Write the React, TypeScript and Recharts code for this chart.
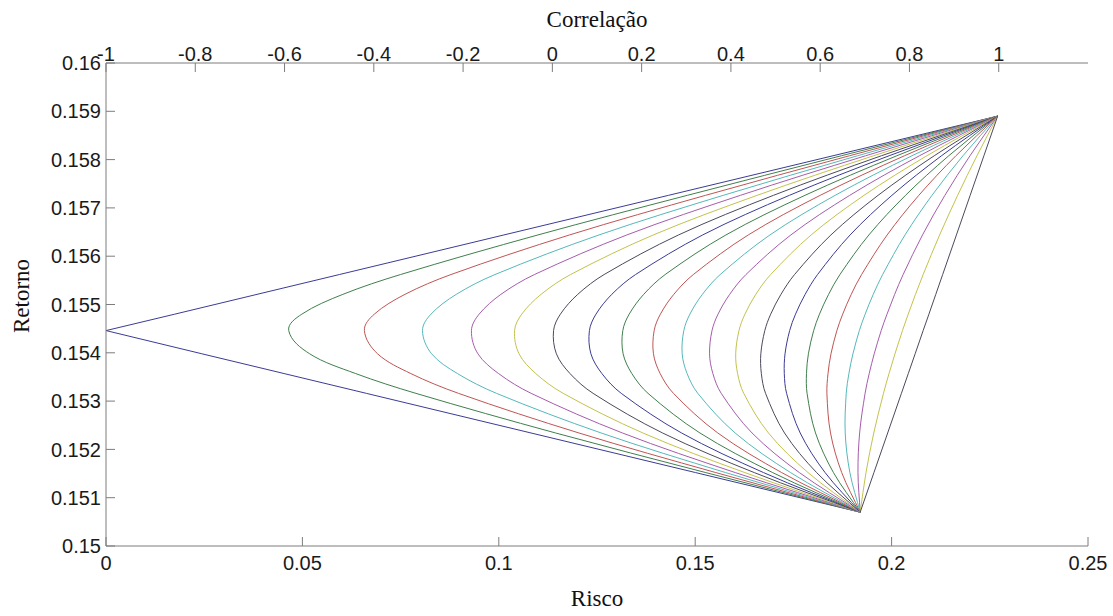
import { Label, Line, LineChart, XAxis, YAxis } from 'recharts'

// retorno da carteira em cada ponto lido (eixo vertical)
const retorno = [
  0.1507, 0.15152, 0.15234, 0.15316, 0.15357, 0.15398, 0.15446,
  0.1548, 0.15521, 0.15562, 0.15644, 0.15726, 0.15808, 0.1589,
]

// risco de cada curva, um array por correlação, na mesma ordem de retorno
const riscoM10 = [0.192, 0.1501, 0.1082, 0.0663, 0.04535, 0.0244, 0, 0.0175, 0.03845, 0.0594, 0.1013, 0.1432, 0.1851, 0.227]
const riscoM09 = [0.192, 0.15269, 0.11446, 0.07891, 0.06356, 0.05184, 0.04652, 0.04985, 0.0603, 0.07497, 0.10996, 0.14799, 0.18721, 0.227]
const riscoM08 = [0.192, 0.15524, 0.1204, 0.08976, 0.07761, 0.06913, 0.06578, 0.0683, 0.07611, 0.08782, 0.118, 0.15263, 0.18929, 0.227]
const riscoM07 = [0.192, 0.15775, 0.12606, 0.09943, 0.08948, 0.08289, 0.08057, 0.08273, 0.08917, 0.09902, 0.12551, 0.15713, 0.19135, 0.227]
const riscoM06 = [0.192, 0.16021, 0.13148, 0.10825, 0.09994, 0.09468, 0.09303, 0.09499, 0.10054, 0.10907, 0.1326, 0.16151, 0.19339, 0.227]
const riscoM05 = [0.192, 0.16264, 0.13668, 0.1164, 0.10942, 0.10515, 0.10401, 0.10584, 0.11075, 0.11827, 0.13934, 0.16577, 0.19541, 0.227]
const riscoM04 = [0.192, 0.16504, 0.14169, 0.12401, 0.11813, 0.11466, 0.11394, 0.11568, 0.1201, 0.12681, 0.14576, 0.16992, 0.19741, 0.227]
const riscoM03 = [0.192, 0.1674, 0.14653, 0.13118, 0.12625, 0.12345, 0.12307, 0.12474, 0.12876, 0.13481, 0.15191, 0.17398, 0.19938, 0.227]
const riscoM02 = [0.192, 0.16972, 0.15121, 0.13799, 0.13387, 0.13165, 0.13157, 0.13319, 0.13689, 0.14235, 0.15782, 0.17794, 0.20134, 0.227]
const riscoM01 = [0.192, 0.17202, 0.15575, 0.14447, 0.14108, 0.13937, 0.13955, 0.14114, 0.14455, 0.14952, 0.16351, 0.18182, 0.20328, 0.227]
const riscoP00 = [0.192, 0.17428, 0.16017, 0.15067, 0.14794, 0.14668, 0.1471, 0.14865, 0.15183, 0.15636, 0.16902, 0.18562, 0.2052, 0.227]
const riscoP01 = [0.192, 0.17652, 0.16447, 0.15663, 0.1545, 0.15365, 0.15428, 0.15581, 0.15878, 0.16291, 0.17435, 0.18934, 0.2071, 0.227]
const riscoP02 = [0.192, 0.17873, 0.16865, 0.16236, 0.16079, 0.16031, 0.16114, 0.16266, 0.16543, 0.16921, 0.17952, 0.19298, 0.20899, 0.227]
const riscoP03 = [0.192, 0.18091, 0.17274, 0.16791, 0.16684, 0.16671, 0.16772, 0.16922, 0.17183, 0.17529, 0.18455, 0.19656, 0.21086, 0.227]
const riscoP04 = [0.192, 0.18307, 0.17673, 0.17327, 0.17268, 0.17287, 0.17405, 0.17554, 0.17799, 0.18115, 0.18944, 0.20008, 0.21271, 0.227]
const riscoP05 = [0.192, 0.1852, 0.18063, 0.17848, 0.17833, 0.17882, 0.18016, 0.18164, 0.18396, 0.18684, 0.19422, 0.20354, 0.21455, 0.227]
const riscoP06 = [0.192, 0.1873, 0.18445, 0.18353, 0.18381, 0.18457, 0.18607, 0.18755, 0.18973, 0.19236, 0.19887, 0.20693, 0.21637, 0.227]
const riscoP07 = [0.192, 0.18938, 0.18819, 0.18845, 0.18913, 0.19016, 0.19179, 0.19327, 0.19533, 0.19772, 0.20342, 0.21028, 0.21817, 0.227]
const riscoP08 = [0.192, 0.19144, 0.19186, 0.19325, 0.1943, 0.19558, 0.19735, 0.19883, 0.20078, 0.20294, 0.20787, 0.21357, 0.21996, 0.227]
const riscoP09 = [0.192, 0.19348, 0.19546, 0.19793, 0.19934, 0.20086, 0.20276, 0.20423, 0.20608, 0.20803, 0.21223, 0.21681, 0.22174, 0.227]
const riscoP10 = [0.192, 0.1955, 0.199, 0.2025, 0.20425, 0.206, 0.20803, 0.2095, 0.21125, 0.213, 0.2165, 0.22, 0.2235, 0.227]

const curvas = [
  riscoM10, riscoM09, riscoM08, riscoM07, riscoM06, riscoM05, riscoM04,
  riscoM03, riscoM02, riscoM01, riscoP00, riscoP01, riscoP02, riscoP03,
  riscoP04, riscoP05, riscoP06, riscoP07, riscoP08, riscoP09, riscoP10,
]

const riscoTicks = [0, 0.05, 0.1, 0.15, 0.2, 0.25]
const retornoTicks = [0.15, 0.151, 0.152, 0.153, 0.154, 0.155, 0.156, 0.157, 0.158, 0.159, 0.16]
const correlacaoTicks = [-1, -0.8, -0.6, -0.4, -0.2, 0, 0.2, 0.4, 0.6, 0.8, 1]

// ordem de cores padrão do MATLAB (b g r c m y k), um pouco esmaecida como no jpg
const CORES = ['#3b3b96', '#3f7f4c', '#c05454', '#55b8ba', '#a65cad', '#c4c24c', '#4a4a5c']

const data = retorno.map((r, i) => {
  const row: Record<string, number> = { r }
  curvas.forEach((c, j) => {
    row[`c${j}`] = c[i]
  })
  return row
})

const fmt = (v: number) => String(+v.toFixed(3))

// curva suave que passa pelos pontos (tangente na direção dos vizinhos),
// sem achatar os mínimos como o monotone faz
function suave(context: any) {
  let pts: number[][] = []
  return {
    areaStart() {},
    areaEnd() {},
    lineStart() {
      pts = []
    },
    point(x: number, y: number) {
      pts.push([+x, +y])
    },
    lineEnd() {
      const n = pts.length
      if (!n) return
      context.moveTo(pts[0][0], pts[0][1])
      if (n === 1) return
      const dir = pts.map((_, i) => {
        const a = pts[Math.max(i - 1, 0)]
        const b = pts[Math.min(i + 1, n - 1)]
        const dx = b[0] - a[0]
        const dy = b[1] - a[1]
        const len = Math.hypot(dx, dy) || 1
        return [dx / len, dy / len]
      })
      for (let i = 0; i < n - 1; i++) {
        const p = pts[i]
        const q = pts[i + 1]
        const d = Math.hypot(q[0] - p[0], q[1] - p[1]) / 3
        context.bezierCurveTo(
          p[0] + dir[i][0] * d, p[1] + dir[i][1] * d,
          q[0] - dir[i + 1][0] * d, q[1] - dir[i + 1][1] * d,
          q[0], q[1],
        )
      }
    },
  }
}

const AXIS = '#7d7d7d'
const tickStyle = { fill: '#1a1a1a', fontSize: 20, fontFamily: '"Liberation Sans", Arial, sans-serif' }
const titleStyle = { fill: '#111', fontSize: 23, fontFamily: '"Liberation Serif", "Times New Roman", serif' }

export default function App() {
  return (
    <div style={{ position: 'absolute', left: 0, top: 0, width: 1113, height: 616, background: '#fff' }}>
      <LineChart
        width={1113}
        height={616}
        layout="vertical"
        data={data}
        margin={{ top: 28, right: 25, bottom: 40, left: 26 }}
      >
        <XAxis
          xAxisId="risco"
          type="number"
          orientation="bottom"
          domain={[0, 0.25]}
          ticks={riscoTicks}
          tickFormatter={fmt}
          allowDataOverflow
          interval={0}
          height={30}
          stroke={AXIS}
          tickSize={-9}
          tickMargin={19}
          tick={tickStyle}
        >
          <Label value="Risco" position="bottom" offset={14} style={titleStyle} />
        </XAxis>
        <XAxis
          xAxisId="corr"
          type="number"
          orientation="top"
          domain={[-1, 1.2]}
          ticks={correlacaoTicks}
          tickFormatter={fmt}
          allowDataOverflow
          interval={0}
          height={35}
          stroke={AXIS}
          tickSize={-9}
          tickMargin={11}
          tick={tickStyle}
        >
          <Label value="Correlação" position="top" offset={1} style={titleStyle} />
        </XAxis>
        <YAxis
          type="number"
          dataKey="r"
          domain={[0.15, 0.16]}
          ticks={retornoTicks}
          tickFormatter={fmt}
          allowDataOverflow
          reversed
          interval={0}
          width={80}
          stroke={AXIS}
          tickSize={-9}
          tickMargin={14}
          tick={tickStyle}
        >
          <Label
            content={() => (
              <text
                x={21}
                y={296}
                transform="rotate(-90 21 296)"
                textAnchor="middle"
                dominantBaseline="central"
                style={titleStyle}
              >
                Retorno
              </text>
            )}
          />
        </YAxis>
        {curvas.map((_, j) => (
          <Line
            key={j}
            xAxisId="risco"
            dataKey={`c${j}`}
            type={j === 0 ? 'linear' : suave}
            stroke={CORES[j % CORES.length]}
            strokeWidth={1}
            dot={false}
            activeDot={false}
            isAnimationActive={false}
          />
        ))}
      </LineChart>
    </div>
  )
}
